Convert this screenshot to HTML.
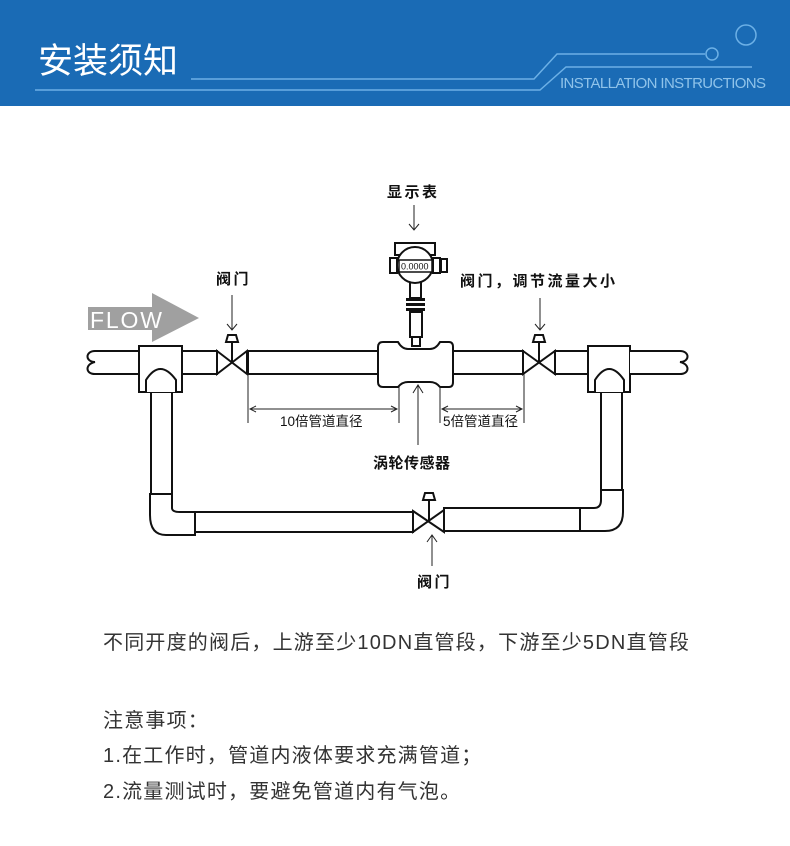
<!DOCTYPE html>
<html><head><meta charset="utf-8"><style>
body{margin:0;width:790px;height:846px;background:#fff;overflow:hidden;font-family:"Liberation Sans","Noto Sans CJK SC",sans-serif}
.t{position:absolute;left:103px;font-size:20px;letter-spacing:1.2px;color:#333;white-space:nowrap}
</style></head><body>
<svg width="790" height="846" style="position:absolute;left:0;top:0" xmlns="http://www.w3.org/2000/svg">
<rect x="0" y="0" width="790" height="106" fill="#1a6bb5"/>
<text x="38" y="73" font-size="35" fill="#fff" font-family="Noto Sans CJK SC, sans-serif">安装须知</text>
<g stroke="#6cb0e6" stroke-width="1.5" fill="none">
<polyline points="35,90 540,90 566,67 752,67"/>
<polyline points="191,79 534,79 557,54 705,54"/>
<circle cx="712" cy="54" r="6"/>
<circle cx="746" cy="35" r="10"/>
</g>
<text x="560" y="88" font-size="15" fill="#8fc3ea" font-family="Liberation Sans, sans-serif" textLength="206">INSTALLATION INSTRUCTIONS</text>

<polygon points="88,307 152,307 152,293 199,318 152,342 152,330 88,330" fill="#a0a0a0"/>
<text x="90" y="328" font-size="23" fill="#fff" font-family="Liberation Sans, sans-serif" textLength="72">FLOW</text>

<g stroke="#111" stroke-width="2" fill="#fff">
<path d="M139,351 L95,351 C85,351 85,362 95,362 C85,364 85,374 95,374 L139,374"/>
<rect x="151" y="390" width="21" height="106"/>
<rect x="139" y="346" width="43" height="46"/>
<path d="M146,392 L146,380 Q160,358 176,380 L176,392" />
<rect x="182" y="351" width="35" height="23"/>
<path d="M217,351 L247,374 L247,351 L217,374 Z"/>
<line x1="232" y1="362" x2="232" y2="342"/>
<path d="M226,342 L238,342 L236,335 L228,335 Z" fill="#fff"/>
<rect x="248" y="351" width="132" height="23"/>
<rect x="453" y="351" width="70" height="23"/>
<path d="M523,351 L555,374 L555,351 L523,374 Z"/>
<line x1="539" y1="362" x2="539" y2="342"/>
<path d="M533,342 L545,342 L543,335 L535,335 Z"/>
<rect x="555" y="351" width="33" height="23"/>
<rect x="601" y="390" width="21" height="104"/>
<rect x="588" y="346" width="42" height="46"/>
<path d="M595,392 L595,380 Q609,358 624,380 L624,392"/>
<path d="M630,351 L680,351 C690,351 690,362 680,362 C690,364 690,374 680,374 L630,374"/>
<path d="M383,342 L398,342 Q402,349 408,349 L430,349 Q436,349 440,342 L449,342 Q453,342 453,347 L453,382 Q453,387 449,387 L440,387 Q436,382 430,382 L408,382 Q402,382 398,387 L383,387 Q378,387 378,382 L378,347 Q378,342 383,342 Z"/>
<rect x="412" y="336" width="8" height="10"/>
<rect x="410" y="312" width="12" height="25"/>
<rect x="410" y="282" width="11" height="16"/>
<rect x="395" y="243" width="40" height="12"/>
<circle cx="415" cy="265" r="18"/>
<rect x="390" y="258" width="7" height="15"/>
<rect x="433" y="258" width="7" height="15"/>
<rect x="441" y="259" width="6" height="13"/>
<rect x="399" y="260" width="33" height="12" stroke-width="1.5"/>
</g>
<text x="401" y="269.5" font-size="9" fill="#111" font-family="Liberation Sans, sans-serif">0.0000</text>
<g fill="#111"><rect x="406" y="298" width="19" height="3"/><rect x="406" y="303" width="19" height="3"/><rect x="406" y="308" width="19" height="3"/></g>

<g stroke="#111" stroke-width="2" fill="#fff">
<path d="M150,494 L172,494 L172,508 Q172,512 180,512 L195,512 L195,535 L166,535 Q150,535 150,515 Z"/>
<rect x="195" y="512" width="218" height="20"/>
<path d="M413,511 L444,532 L444,510 L413,532 Z"/>
<line x1="429" y1="521" x2="429" y2="500"/>
<path d="M423,500 L435,500 L433,493 L425,493 Z"/>
<rect x="444" y="508" width="136" height="23"/>
<path d="M601,490 L623,490 L623,512 Q623,531 605,531 L580,531 L580,508 L594,508 Q601,508 601,500 Z"/>
</g>

<g stroke="#222" stroke-width="1" fill="none">
<line x1="248" y1="374" x2="248" y2="423"/>
<line x1="399" y1="387" x2="399" y2="423"/>
<line x1="440" y1="387" x2="440" y2="423"/>
<line x1="524" y1="374" x2="524" y2="423"/>
<line x1="250" y1="409" x2="397" y2="409"/>
<line x1="442" y1="409" x2="522" y2="409"/>
<path d="M256,406 L250,409 L256,412 M391,406 L397,409 L391,412 M448,406 L442,409 L448,412 M516,406 L522,409 L516,412"/>
<line x1="418" y1="385" x2="418" y2="445"/><path d="M413,393 L418,385 L423,393"/>
<line x1="414" y1="205" x2="414" y2="230"/><path d="M409,224 L414,230 L419,224"/>
<line x1="232" y1="295" x2="232" y2="330"/><path d="M227,324 L232,330 L237,324"/>
<line x1="540" y1="298" x2="540" y2="330"/><path d="M535,324 L540,330 L545,324"/>
<line x1="432" y1="535" x2="432" y2="566"/><path d="M427,542 L432,535 L437,542"/>
</g>
<g font-size="15" fill="#111" font-family="Noto Sans CJK SC, sans-serif" font-weight="bold" letter-spacing="2.5">
<text x="387" y="197">显示表</text>
<text x="216" y="284">阀门</text>
<text x="460" y="286">阀门，调节流量大小</text>
<text x="373" y="468" letter-spacing="0.5">涡轮传感器</text>
<text x="417" y="587">阀门</text>
</g>
<g font-size="13.5" fill="#111" font-family="Liberation Sans, Noto Sans CJK SC, sans-serif">
<text x="280" y="426">10倍管道直径</text>
<text x="443" y="426">5倍管道直径</text>
</g>
</svg>
<div class="t" style="top:626px">不同开度的阀后，上游至少10DN直管段，下游至少5DN直管段</div>
<div class="t" style="top:704px">注意事项：</div>
<div class="t" style="top:739px">1.在工作时，管道内液体要求充满管道；</div>
<div class="t" style="top:775px">2.流量测试时，要避免管道内有气泡。</div>
</body></html>
